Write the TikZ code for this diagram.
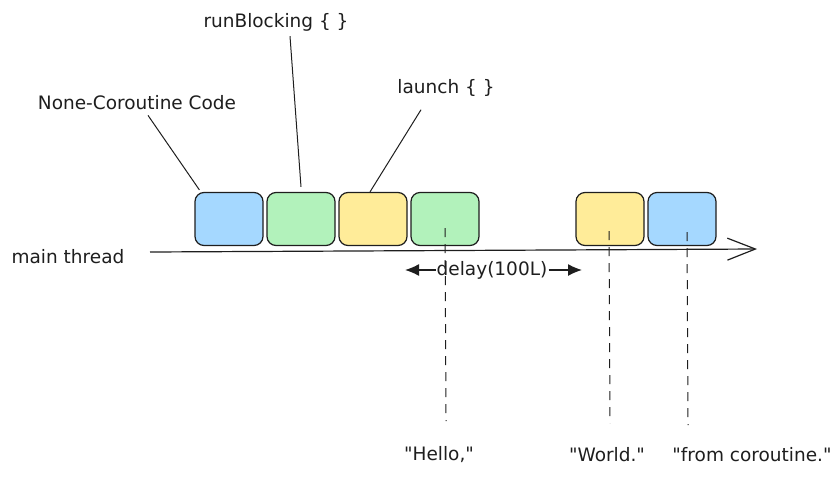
\documentclass[tikz,border=0pt]{standalone}
\usepackage{fontspec}
\setmainfont{DejaVu Sans}[Ligatures=TeXOff]
\usetikzlibrary{arrows.meta,positioning}
\definecolor{ink}{HTML}{1E1E1E}
\definecolor{skyfill}{HTML}{A5D8FF}
\definecolor{mintfill}{HTML}{B2F2BB}
\definecolor{sandfill}{HTML}{FFEC99}
\begin{document}
\begin{tikzpicture}[x=1pt, y=-1pt, node distance=72pt,
                    block/.style = {draw=ink, line width=1.2pt, rounded corners=9pt, minimum width=68pt, minimum height=53pt},
                    txt/.style = {text=ink, font=\fontsize{18.5}{21}\selectfont, inner sep=1pt},
                    wire/.style = {draw=ink, line width=1pt},
                    mark line/.style = {draw=ink, line width=1pt, dash pattern=on 9pt off 7pt}]
                    \useasboundingbox (0,0) rectangle (840,477);

                    % blocks on the thread
                    \node[block, fill=skyfill] (1) at (229,219) {};
                    \node[block, fill=mintfill] (2) [right of=1] {};
                    \node[block, fill=sandfill] (3) [right of=2] {};
                    \node[block, fill=mintfill] (4) [right of=3] {};

                    \node[block, fill=sandfill] (5) at (610,219) {};
                    \node[block, fill=skyfill] (6) [right of=5] {};

                    % the thread
                    \node[txt] (main) at (68,257) {main thread};
                    \coordinate (t0) at (150,252);
                    \coordinate (t1) at (757,249);
                    \draw[wire, line width=1.2pt, -{Straight Barb[length=28pt,width=22pt,line width=1.2pt]}] (t0) -- (t1);

                    % labels above
                    \node[txt] (ncc) at (137,103) {None-Coroutine Code};
                    \node[txt] (rb) at (276,22) {runBlocking \{ \}};
                    \node[txt] (lc) at (446,88) {launch \{ \}};

                    \draw[wire] ([xshift=11pt, yshift=-4pt]ncc.south) -- ([xshift=5pt, yshift=2pt]1.north west);
                    \draw[wire] ([xshift=14pt, yshift=-4pt]rb.south) -- ([yshift=5pt]2.north);
                    \draw[wire] ([xshift=-25pt, yshift=-12pt]lc.south) -- ([xshift=-3pt]3.north);

                    % delay
                    \node[txt, fill=white] (dl) at (492,270) {delay(100L)};
                    \coordinate (da) at (405,270);
                    \coordinate (db) at (582,270);
                    \draw[wire, line width=1.3pt, -{Latex[length=14pt,width=12pt]}] (dl) -- (da);
                    \draw[wire, line width=1.3pt, -{Latex[length=14pt,width=12pt]}] (dl) -- (db);

                    % printed output
                    \node[txt] (hello) at (439,455) {"Hello,"};
                    \node[txt] (world) at (607,455) {"World."};
                    \node[txt] (from) at (752,455) {"from coroutine."};

                    \coordinate (h0) at (445,228);
                    \coordinate (h1) at (446,421);
                    \coordinate (w0) at (609,231);
                    \coordinate (w1) at (610,423);
                    \coordinate (f0) at (687,232);
                    \coordinate (f1) at (688,425);
                    \draw[mark line] (h0) -- (h1);
                    \draw[mark line] (w0) -- (w1);
                    \draw[mark line] (f0) -- (f1);
                \end{tikzpicture}
\end{document}
